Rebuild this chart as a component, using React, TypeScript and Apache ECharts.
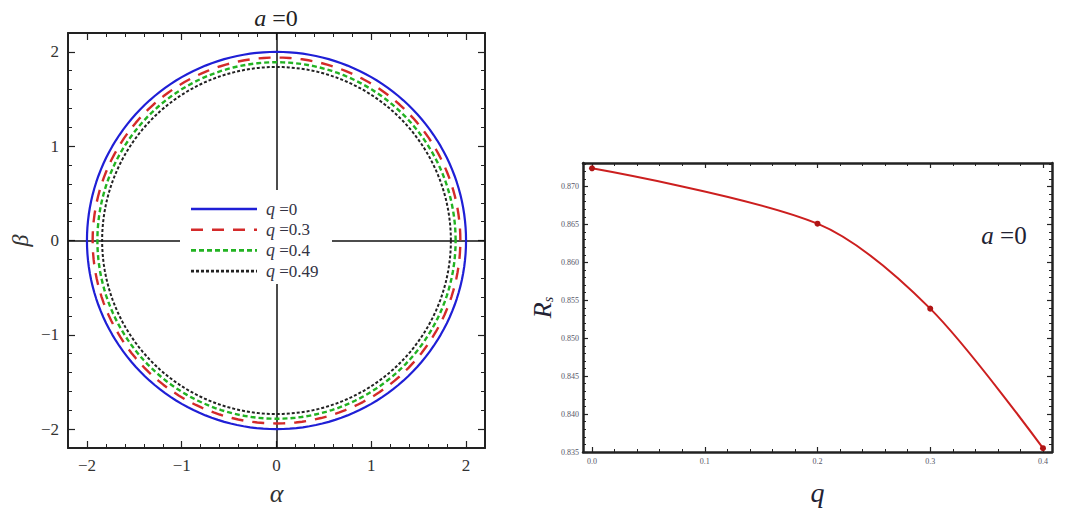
import React, { useEffect, useRef } from "react";
import * as echarts from "echarts";

// ---------- data ----------
const qLabels = ["0", "0.3", "0.4", "0.49"];
const shadowRadii = [2.0, 1.94, 1.89, 1.84];
const circleColors = ["#1f1fd6", "#d42a2a", "#22b322", "#222222"];

const qValues = [0, 0.2, 0.3, 0.4];
const rsValues = [0.8724, 0.8651, 0.8539, 0.8355];

// ---------- ticks ----------
const leftMajor = [-2, -1, 0, 1, 2];
const leftMinor = [-2.2, -2, -1.8, -1.6, -1.4, -1.2, -1, -0.8, -0.6, -0.4, -0.2, 0, 0.2, 0.4, 0.6, 0.8, 1, 1.2, 1.4, 1.6, 1.8, 2, 2.2];
const rightXMajor = [0, 0.1, 0.2, 0.3, 0.4];
const rightXMinor = [0, 0.02, 0.04, 0.06, 0.08, 0.1, 0.12, 0.14, 0.16, 0.18, 0.2, 0.22, 0.24, 0.26, 0.28, 0.3, 0.32, 0.34, 0.36, 0.38, 0.4];
const rightYMajor = [0.835, 0.84, 0.845, 0.85, 0.855, 0.86, 0.865, 0.87];
const rightYMinor = [
  0.835, 0.836, 0.837, 0.838, 0.839, 0.84, 0.841, 0.842, 0.843, 0.844, 0.845, 0.846, 0.847, 0.848, 0.849,
  0.85, 0.851, 0.852, 0.853, 0.854, 0.855, 0.856, 0.857, 0.858, 0.859, 0.86, 0.861, 0.862, 0.863, 0.864,
  0.865, 0.866, 0.867, 0.868, 0.869, 0.87, 0.871, 0.872, 0.873,
];

const SERIF = "'Liberation Serif', 'Times New Roman', serif";

function circlePoints(r: number): number[][] {
  const pts: number[][] = [];
  for (let d = 0; d <= 360; d += 2) {
    const t = (d * Math.PI) / 180;
    pts.push([r * Math.cos(t), r * Math.sin(t)]);
  }
  return pts;
}

function frameAxes(
  dim: "x" | "y",
  gridIndex: number,
  min: number,
  max: number,
  major: number[],
  minor: number[],
  lineWidth: number,
  majorLen: number,
  minorLen: number,
  label: any,
  name: any
) {
  const pos = dim === "x" ? ["bottom", "top"] : ["left", "right"];
  const base = {
    type: "value",
    gridIndex,
    min,
    max,
    splitLine: { show: false },
  };
  const axes: any[] = [];
  pos.forEach((p, i) => {
    axes.push({
      ...base,
      position: p,
      axisLine: { show: true, onZero: false, lineStyle: { color: "#222", width: lineWidth } },
      axisTick: {
        show: true,
        inside: true,
        length: majorLen,
        customValues: major,
        lineStyle: { color: "#222", width: 1.2 },
      },
      axisLabel: i === 0 ? { ...label, customValues: major } : { show: false },
      ...(i === 0 ? name : {}),
    });
    axes.push({
      ...base,
      position: p,
      axisLine: { show: false, onZero: false },
      axisTick: {
        show: true,
        inside: true,
        length: minorLen,
        customValues: minor,
        lineStyle: { color: "#222", width: 1 },
      },
      axisLabel: { show: false },
    });
  });
  return axes;
}

const fmtSigned = (v: number) => {
  const r = Math.round(v);
  return r < 0 ? "\u2212" + Math.abs(r) : String(r);
};

export default function App() {
  const ref = useRef<HTMLDivElement>(null);

  useEffect(() => {
    if (!ref.current) return;
    const chart = echarts.init(ref.current, undefined, { renderer: "svg" });

    const leftLabel = {
      show: true,
      fontFamily: SERIF,
      fontSize: 17,
      color: "#333",
      margin: 9,
      formatter: fmtSigned,
    };
    const rightXLabel = {
      show: true,
      fontFamily: SERIF,
      fontSize: 8,
      color: "#556",
      margin: 5,
      formatter: (v: number) => v.toFixed(1),
    };
    const rightYLabel = {
      show: true,
      fontFamily: SERIF,
      fontSize: 8,
      color: "#556",
      margin: 4,
      formatter: (v: number) => v.toFixed(3),
    };

    const xAxes = [
      ...frameAxes("x", 0, -2.2, 2.2, leftMajor, leftMinor, 2, 7, 4, leftLabel, {
        name: "\u03b1",
        nameLocation: "middle",
        nameGap: 32,
        nameTextStyle: { fontFamily: SERIF, fontStyle: "italic", fontSize: 26, color: "#333" },
      }),
      ...frameAxes("x", 1, -0.008, 0.408, rightXMajor, rightXMinor, 2.5, 5, 3, rightXLabel, {
        name: "q",
        nameLocation: "middle",
        nameGap: 26,
        nameTextStyle: { fontFamily: SERIF, fontStyle: "italic", fontSize: 28, color: "#223" },
      }),
    ];
    const yAxes = [
      ...frameAxes("y", 0, -2.2, 2.2, leftMajor, leftMinor, 2, 7, 4, leftLabel, {
        name: "\u03b2",
        nameLocation: "middle",
        nameGap: 36,
        nameTextStyle: { fontFamily: SERIF, fontStyle: "italic", fontSize: 24, color: "#333" },
      }),
      ...frameAxes("y", 1, 0.835, 0.8731, rightYMajor, rightYMinor, 2.5, 5, 3, rightYLabel, {
        name: "{i|R}{s|s}",
        nameLocation: "middle",
        nameGap: 28,
        nameTextStyle: {
          color: "#223",
          rich: {
            i: { fontFamily: SERIF, fontStyle: "italic", fontSize: 26, color: "#223" },
            s: { fontFamily: SERIF, fontStyle: "italic", fontSize: 14, color: "#223", padding: [12, 0, 0, 0] },
          },
        },
      }),
    ];

    const circleDash: any[] = ["solid", [12, 9], [5, 3], [3, 2]];
    const circleWidth = [2.2, 2.4, 2.4, 2];

    const circleSeries = shadowRadii.map((r, i) => ({
      name: qLabels[i],
      type: "line",
      xAxisIndex: 0,
      yAxisIndex: 0,
      symbol: "none",
      showSymbol: false,
      data: circlePoints(r),
      lineStyle: { color: circleColors[i], width: circleWidth[i], type: circleDash[i] },
      itemStyle: { color: circleColors[i] },
      z: 3,
      ...(i === 0
        ? {
            markLine: {
              silent: true,
              symbol: "none",
              label: { show: false },
              lineStyle: { color: "#111", width: 1.5, type: "solid" },
              data: [{ xAxis: 0 }, { yAxis: 0 }],
              z: 2,
            },
          }
        : {}),
    }));

    const rsSeries = {
      name: "Rs",
      type: "line",
      xAxisIndex: 4,
      yAxisIndex: 4,
      smooth: 0.3,
      symbol: "circle",
      symbolSize: 6,
      data: qValues.map((q, i) => [q, rsValues[i]]),
      lineStyle: { color: "#cc1f1f", width: 2 },
      itemStyle: { color: "#b01515" },
      z: 3,
    };

    // legend drawn as graphic (line samples with the series' dash patterns)
    const legendX = 180;
    const legendY = 190;
    const legendChildren: any[] = [
      {
        type: "rect",
        z: 100,
        shape: { x: 0, y: 0, width: 152, height: 94 },
        style: { fill: "#fff" },
      },
    ];
    qLabels.forEach((lab, i) => {
      const cy = 19 + i * 20.7;
      legendChildren.push({
        type: "line",
        z: 101,
        shape: { x1: 11, y1: cy, x2: 77, y2: cy },
        style: {
          stroke: circleColors[i],
          lineWidth: 2.6,
          lineDash: circleDash[i] === "solid" ? null : circleDash[i],
        },
      });
      legendChildren.push({
        type: "text",
        z: 101,
        x: 86,
        y: cy,
        style: {
          text: "{i|q}{n| =" + lab + "}",
          verticalAlign: "middle",
          align: "left",
          fill: "#334",
          rich: {
            i: { fontFamily: SERIF, fontStyle: "italic", fontSize: 18, fill: "#334" },
            n: { fontFamily: SERIF, fontSize: 17, fill: "#334" },
          },
        },
      });
    });

    chart.setOption({
      animation: false,
      backgroundColor: "#fff",
      grid: [
        { left: 68, top: 33, width: 417, height: 419, containLabel: false },
        { left: 583, top: 163, width: 469, height: 297, containLabel: false },
      ],
      xAxis: xAxes,
      yAxis: yAxes,
      graphic: [
        {
          type: "group",
          x: legendX,
          y: legendY,
          z: 100,
          children: legendChildren,
        },
        {
          type: "text",
          x: 276,
          y: 18,
          z: 100,
          style: {
            text: "{i|a}{n| =0}",
            align: "center",
            verticalAlign: "middle",
            fill: "#222",
            rich: {
              i: { fontFamily: SERIF, fontStyle: "italic", fontSize: 24, fill: "#222" },
              n: { fontFamily: SERIF, fontSize: 24, fill: "#222" },
            },
          },
        },
        {
          type: "text",
          x: 1004,
          y: 235,
          z: 100,
          style: {
            text: "{i|a}{n| =0}",
            align: "center",
            verticalAlign: "middle",
            fill: "#222",
            rich: {
              i: { fontFamily: SERIF, fontStyle: "italic", fontSize: 25, fill: "#223" },
              n: { fontFamily: SERIF, fontSize: 25, fill: "#223" },
            },
          },
        },
      ],
      series: [...circleSeries, rsSeries],
    });

    return () => chart.dispose();
  }, []);

  return (
    <div
      ref={ref}
      style={{ position: "absolute", left: 0, top: 0, width: 1069, height: 511, background: "#fff" }}
    />
  );
}
